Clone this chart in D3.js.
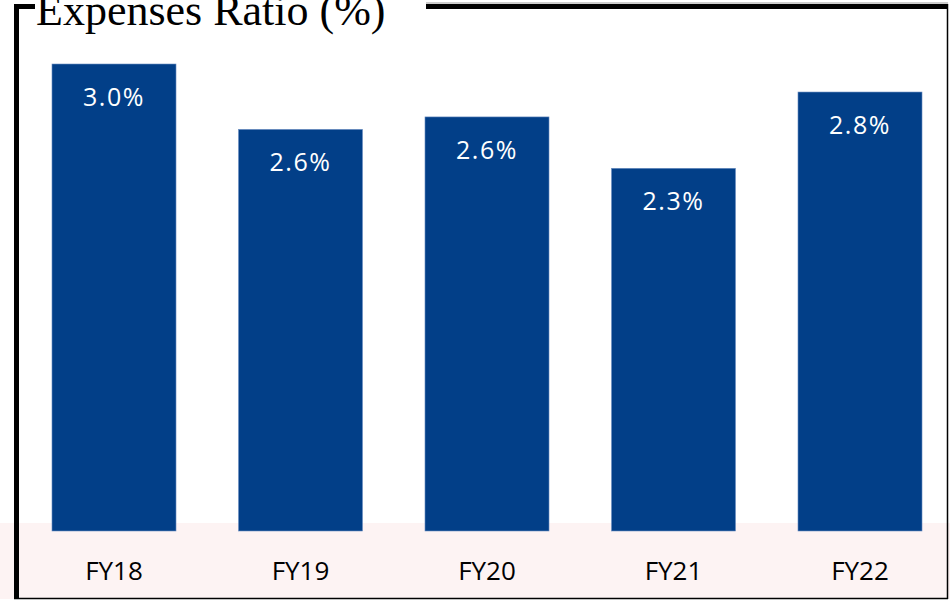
<!DOCTYPE html>
<html>
<head>
<meta charset="utf-8">
<script src="https://cdn.jsdelivr.net/npm/d3@7"></script>
<style>
  html, body { margin: 0; padding: 0; background: #fff; }
  svg { display: block; }
</style>
</head>
<body>
<svg id="chart"></svg>
<script>
const width = 950;
const height = 601;

// data
const years = ['FY18', 'FY19', 'FY20', 'FY21', 'FY22'];
const ratios = [3.0, 2.58, 2.66, 2.33, 2.82];
const ratioLabels = ['3.0%', '2.6%', '2.6%', '2.3%', '2.8%'];
const title = 'Expenses Ratio (%)';

const svg = d3.select('#chart')
    .attr('width', width)
    .attr('height', height);

const x = d3.scaleBand()
    .domain(years)
    .range([20.75, 953.25])
    .paddingInner(0.335)
    .paddingOuter(0.1675);

const y = d3.scaleLinear()
    .domain([0, 3.0])
    .range([531, 64]);

// faint watermark band at the bottom
svg.append('rect')
    .attr('x', 0)
    .attr('y', 523)
    .attr('width', width)
    .attr('height', 76)
    .attr('fill', '#fdf3f3');

// frame
svg.append('line')   // left thick side
    .attr('x1', 16.5).attr('y1', 4)
    .attr('x2', 16.5).attr('y2', 599)
    .attr('stroke', '#000').attr('stroke-width', 5);
svg.append('line')   // top stub left of the title
    .attr('x1', 14).attr('y1', 6.5)
    .attr('x2', 35).attr('y2', 6.5)
    .attr('stroke', '#000').attr('stroke-width', 5);
svg.append('line')   // top right of the title
    .attr('x1', 426).attr('y1', 6.5)
    .attr('x2', 948).attr('y2', 6.5)
    .attr('stroke', '#000').attr('stroke-width', 5);
svg.append('line')
    .attr('x1', 426).attr('y1', 3)
    .attr('x2', 948).attr('y2', 3)
    .attr('stroke', '#999').attr('stroke-width', 1);
svg.append('line')   // right side
    .attr('x1', 947.5).attr('y1', 4)
    .attr('x2', 947.5).attr('y2', 599)
    .attr('stroke', '#000').attr('stroke-width', 1.5);
svg.append('line')   // bottom
    .attr('x1', 14).attr('y1', 598.5)
    .attr('x2', 948).attr('y2', 598.5)
    .attr('stroke', '#000').attr('stroke-width', 1.5);

svg.append('text')
    .attr('x', 36)
    .attr('y', 25)
    .attr('font-family', 'Liberation Serif, Times New Roman, serif')
    .attr('font-size', 44)
    .attr('fill', '#000')
    .text(title);

svg.selectAll('.bar')
    .data(years)
    .enter()
    .append('rect')
    .attr('class', 'bar')
    .attr('x', d => x(d))
    .attr('y', (d, i) => y(ratios[i]))
    .attr('width', x.bandwidth())
    .attr('height', (d, i) => y(0) - y(ratios[i]))
    .attr('fill', '#023f88')
    .attr('stroke', '#6d8fc2')
    .attr('stroke-width', 0.6);

svg.selectAll('.value')
    .data(years)
    .enter()
    .append('text')
    .attr('class', 'value')
    .attr('x', d => x(d) + x.bandwidth() / 2)
    .attr('y', (d, i) => y(ratios[i]) + 42)
    .attr('text-anchor', 'middle')
    .attr('font-family', 'Open Sans, sans-serif')
    .attr('font-size', 25)
    .attr('letter-spacing', 1.6)
    .attr('fill', '#fff')
    .text((d, i) => ratioLabels[i]);

const xAxis = svg.append('g')
    .attr('transform', `translate(0, ${y(0)})`)
    .call(d3.axisBottom(x).tickSize(0).tickPadding(0));
xAxis.select('.domain').remove();
xAxis.selectAll('text')
    .attr('dy', null)
    .attr('y', 49)
    .attr('font-family', 'Open Sans, sans-serif')
    .attr('font-size', 26)
    .attr('fill', '#000');
</script>
</body>
</html>
